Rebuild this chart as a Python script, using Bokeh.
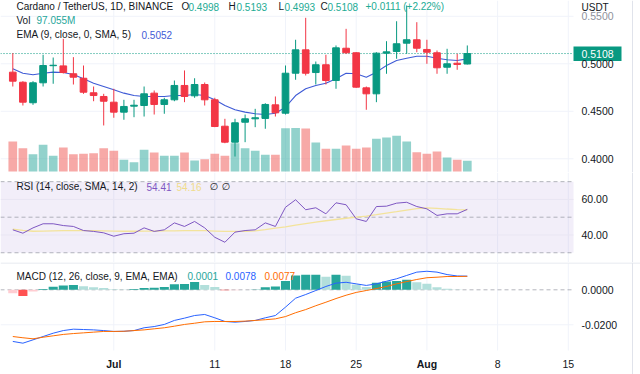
from bokeh.plotting import figure
from bokeh.models import Range1d, Label, ColumnDataSource
from bokeh.layouts import column
from bokeh.embed import file_html
from bokeh.resources import INLINE

# ---------------- data (ADA/USDT daily, Jun 21 - Aug 5) ----------------
date_labels = ["Jul", "11", "18", "25", "Aug", "8", "15"]
date_ticks = [10, 20, 27, 34, 41, 48, 55]
date_bold = [True, False, False, False, True, False, False]
price_ticks = [0.40, 0.45, 0.50, 0.55]
rsi_ticks = [40, 60]
macd_ticks = [0.0, -0.02]

opens = [0.4912, 0.4806, 0.4590, 0.4800, 0.4980, 0.4978, 0.4895, 0.4848, 0.4695, 0.4656,
         0.4596, 0.4491, 0.4554, 0.4561, 0.4691, 0.4572, 0.4621, 0.4772, 0.4663, 0.4782,
         0.4621, 0.4343, 0.4175, 0.4385, 0.4421, 0.4425, 0.4568, 0.4480, 0.4901, 0.5147,
         0.4908, 0.4990, 0.4824, 0.5164, 0.5116, 0.4747, 0.4684, 0.5112, 0.5130, 0.5217,
         0.5253, 0.5151, 0.5116, 0.4964, 0.5006, 0.4998]
highs = [0.5112, 0.4817, 0.4817, 0.5095, 0.5066, 0.5263, 0.5070, 0.4982, 0.4761, 0.4684,
         0.4737, 0.4621, 0.4621, 0.4761, 0.4719, 0.4642, 0.4824, 0.4930, 0.4848, 0.4803,
         0.4642, 0.4421, 0.4421, 0.4466, 0.4526, 0.4585, 0.4656, 0.4982, 0.5253, 0.5484,
         0.5024, 0.5095, 0.5193, 0.5368, 0.5122, 0.4761, 0.5122, 0.5238, 0.5448, 0.5614,
         0.5438, 0.5253, 0.5140, 0.5158, 0.5105, 0.5193]
lows = [0.4761, 0.4561, 0.4568, 0.4761, 0.4790, 0.4898, 0.4782, 0.4684, 0.4606, 0.4351,
        0.4432, 0.4411, 0.4438, 0.4445, 0.4466, 0.4474, 0.4606, 0.4596, 0.4642, 0.4561,
        0.4333, 0.4164, 0.4024, 0.4175, 0.4333, 0.4316, 0.4445, 0.4466, 0.4832, 0.4877,
        0.4782, 0.4782, 0.4737, 0.5105, 0.4747, 0.4516, 0.4596, 0.4895, 0.5053, 0.5105,
        0.5122, 0.5000, 0.4895, 0.4895, 0.4937, 0.4993]
closes = [0.4817, 0.4596, 0.4800, 0.4982, 0.4985, 0.4908, 0.4859, 0.4701, 0.4666, 0.4606,
          0.4491, 0.4551, 0.4564, 0.4684, 0.4572, 0.4621, 0.4772, 0.4656, 0.4782, 0.4621,
          0.4340, 0.4175, 0.4379, 0.4421, 0.4432, 0.4572, 0.4484, 0.4901, 0.5147, 0.4901,
          0.4990, 0.4824, 0.5168, 0.5116, 0.4754, 0.4684, 0.5112, 0.5126, 0.5211, 0.5253,
          0.5164, 0.5122, 0.4958, 0.5000, 0.4993, 0.5108]
volume_m = [272, 211, 157, 242, 142, 218, 157, 161, 166, 211,
            188, 106, 84, 197, 172, 142, 142, 172, 100, 112,
            161, 142, 257, 211, 188, 151, 151, 392, 394, 391,
            263, 206, 206, 236, 206, 218, 297, 308, 324, 272,
            175, 161, 181, 127, 106, 97.055]
ema9 = [0.4947, 0.4901, 0.4884, 0.4901, 0.4912, 0.4908, 0.4887, 0.4842, 0.4796, 0.4761,
        0.4726, 0.4691, 0.4666, 0.4656, 0.4656, 0.4656, 0.4666, 0.4666, 0.4677, 0.4666,
        0.4621, 0.4561, 0.4516, 0.4491, 0.4474, 0.4466, 0.4480, 0.4543, 0.4666, 0.4737,
        0.4772, 0.4796, 0.4842, 0.4901, 0.4895, 0.4859, 0.4912, 0.4982, 0.5035, 0.5059,
        0.5080, 0.5080, 0.5059, 0.5042, 0.5035, 0.5052]
rsi = [42.9, 41.0, 44.0, 46.3, 46.3, 45.3, 44.8, 42.5, 42.0, 41.2,
       39.3, 40.7, 41.0, 44.0, 42.0, 42.9, 46.8, 44.8, 47.6, 44.0,
       38.7, 35.9, 41.6, 42.5, 42.9, 46.8, 44.8, 55.6, 59.8, 54.2,
       55.3, 51.9, 58.1, 57.0, 49.1, 47.6, 56.0, 56.2, 57.9, 58.4,
       56.0, 54.7, 51.0, 51.9, 51.9, 54.41]
rsi_ma = [43.3, 42.6, 42.1, 42.2, 42.3, 42.4, 42.5, 42.5, 42.4, 42.3,
          42.2, 42.1, 42.1, 42.2, 42.2, 42.3, 42.3, 42.4, 42.5, 42.4,
          42.2, 42.0, 42.0, 42.1, 42.3, 43.0, 43.8, 44.6, 45.6, 46.4,
          47.2, 48.0, 48.7, 49.4, 50.0, 50.6, 51.4, 52.3, 53.1, 54.0,
          54.8, 55.2, 55.0, 54.6, 54.3, 54.16]
macd = [-0.0295, -0.0305, -0.0286, -0.0267, -0.0248, -0.0233, -0.0225, -0.0227, -0.0229, -0.0233,
        -0.0238, -0.0237, -0.0233, -0.0217, -0.0210, -0.0198, -0.0175, -0.0162, -0.0147, -0.0141,
        -0.0160, -0.0181, -0.0185, -0.0181, -0.0175, -0.0160, -0.0147, -0.0099, -0.0048, -0.0027,
        -0.0004, 0.0019, 0.0038, 0.0043, 0.0034, 0.0025, 0.0034, 0.0049, 0.0063, 0.0082,
        0.0101, 0.0106, 0.0101, 0.0087, 0.0079, 0.0078]
signal = [-0.0267, -0.0274, -0.0280, -0.0271, -0.0263, -0.0255, -0.0250, -0.0246, -0.0242, -0.0238,
          -0.0238, -0.0237, -0.0233, -0.0229, -0.0223, -0.0217, -0.0208, -0.0198, -0.0191, -0.0183,
          -0.0181, -0.0181, -0.0181, -0.0179, -0.0175, -0.0171, -0.0166, -0.0153, -0.0131, -0.0113,
          -0.0091, -0.0071, -0.0050, -0.0031, -0.0015, -0.0004, 0.0007, 0.0019, 0.0034, 0.0047,
          0.0059, 0.0069, 0.0072, 0.0076, 0.0076, 0.0077]
hist = [-0.0020, -0.0036, -0.0010, 0.0005, 0.0018, 0.0025, 0.0028, 0.0020, 0.0015, 0.0010,
        0.0003, 0.0002, 0.0004, 0.0011, 0.0012, 0.0016, 0.0032, 0.0033, 0.0044, 0.0028,
        0.0016, -0.0003, -0.0002, 0.0001, 0.0002, 0.0014, 0.0019, 0.0050, 0.0082, 0.0086,
        0.0086, 0.0074, 0.0086, 0.0080, 0.0030, 0.0016, 0.0040, 0.0047, 0.0051, 0.0057,
        0.0043, 0.0034, 0.0015, 0.0006, 0.0002, 0.0001]

# ---------------- styling constants ----------------
FONT = "Liberation Sans"
TXT = "#131722"
GREEN = "#089981"
RED = "#f23645"
GRID = "#f0f3fa"
SEP = "#e0e3eb"
W = 640
SCALE_LEFT = 573   # left edge of the price scale (px)
LABEL_X = 581      # left edge of scale labels (px)


# pixel helpers (canvas pixel -> data space); used for ranges and annotation placement
def px2x(px):
    return (px - 12.3) / 10.1


def py2price(py):
    return 0.5 + (63.3 - py) / 950.0


def py2vol(py):
    return (171.0 - py) * 9.07


def py2rsi(py):
    return 50 + (216.7 - py) / 1.7775


def py2macd(py):
    return (289.3 - py) / 1750.0


n = len(closes)
idx = list(range(n))
xr = Range1d(px2x(0), px2x(W))


def make_fig(height, yr):
    p = figure(width=W, height=height, x_range=xr, y_range=yr, output_backend="svg",
               toolbar_location=None, x_axis_location=None, y_axis_location=None,
               min_border_left=0, min_border_right=0, min_border_top=0, min_border_bottom=0)
    p.outline_line_color = None
    p.background_fill_color = "white"
    p.border_fill_color = "white"
    p.grid.visible = False
    return p


def lab(p, px, y, text, color=TXT, size="10px", font=FONT, style="normal", align="left"):
    p.add_layout(Label(x=px2x(px), y=y, text=text, text_color=color, text_font=font,
                       text_font_size=size, text_font_style=style, text_align=align,
                       text_baseline="middle"))


def vgrid(p, y0, y1):
    p.segment(x0=date_ticks, x1=date_ticks, y0=[y0] * len(date_ticks),
              y1=[y1] * len(date_ticks), line_color=GRID, line_width=1)


def hlines(p, ys, color, dash="solid", alpha=1.0, x1px=SCALE_LEFT):
    p.segment(x0=[px2x(0)] * len(ys), x1=[px2x(x1px)] * len(ys), y0=ys, y1=ys,
              line_color=color, line_alpha=alpha, line_dash=dash, line_width=1)


def scale_labels(p, ys, fmt, color=TXT, skip=()):
    for yv in ys:
        if yv in skip:
            continue
        lab(p, LABEL_X, yv, fmt % yv, color, size="10.5px")


def right_border(p, y0, y1):
    p.segment(x0=[px2x(632)], x1=[px2x(632)], y0=[y0], y1=[y1], line_color=SEP, line_width=1)


# ---------------- price pane ----------------
p1 = make_fig(172, Range1d(py2price(172), py2price(0)))
p1.extra_y_ranges = {"vol": Range1d(py2vol(172), py2vol(0))}
vgrid(p1, py2price(0), py2price(172))
hlines(p1, price_ticks, GRID)
right_border(p1, py2price(0), py2price(172))

up = [c >= o for o, c in zip(opens, closes)]
src = ColumnDataSource(dict(
    x=idx, high=highs, low=lows, vol=volume_m,
    top=[max(o, c) for o, c in zip(opens, closes)],
    bot=[min(o, c) for o, c in zip(opens, closes)],
    color=[GREEN if u else RED for u in up],
    vcolor=["#26a69a" if u else "#ef5350" for u in up],
))
p1.vbar(x="x", top="vol", bottom=0, width=0.86, fill_color="vcolor", fill_alpha=0.5,
        line_color=None, y_range_name="vol", source=src)
hlines(p1, [closes[-1]], GREEN, dash="1 2")
p1.line(idx, ema9, line_color="#3f5bd6", line_width=1.1)
p1.segment(x0="x", y0="low", x1="x", y1="high", line_color="color", line_width=1, source=src)
p1.vbar(x="x", top="top", bottom="bot", width=0.66, fill_color="color",
        line_color="color", line_width=1, source=src)

# scale: tick labels, unit, last price box
scale_labels(p1, price_ticks, "%.4f", skip=(0.55,))
lab(p1, LABEL_X, 0.55, "0.5500", "#8f929b", size="10.5px")
lab(p1, LABEL_X, py2price(6.5), "USDT", size="10px")
p1.quad(left=[px2x(SCALE_LEFT)], right=[px2x(621)], top=[py2price(46)],
        bottom=[py2price(60.5)], fill_color=GREEN, line_color=None)
lab(p1, LABEL_X, closes[-1], f"{closes[-1]:.4f}", "white", size="10.5px")

# legends
lab(p1, 16, py2price(6), "Cardano / TetherUS, 1D, BINANCE")
lab(p1, 181, py2price(6), "O")
lab(p1, 188, py2price(6), f"{opens[-1]:.4f}", "#22ab94")
lab(p1, 228, py2price(6), "H")
lab(p1, 236, py2price(6), f"{highs[-1]:.4f}", "#22ab94")
lab(p1, 278, py2price(6), "L")
lab(p1, 284, py2price(6), f"{lows[-1]:.4f}", "#22ab94")
lab(p1, 320, py2price(6), "C")
lab(p1, 327, py2price(6), f"{closes[-1]:.4f}", "#22ab94")
lab(p1, 365, py2price(6), "+0.0111 (+2.22%)", "#22ab94")
lab(p1, 16, py2price(20), "Vol")
lab(p1, 36, py2price(20), "97.055M", "#26a69a")
lab(p1, 16, py2price(34), "EMA (9, close, 0, SMA, 5)")
lab(p1, 141, py2price(34), f"{ema9[-1]:.4f}", "#3f5bd6")

# ---------------- RSI pane ----------------
p2 = make_fig(90, Range1d(py2rsi(262), py2rsi(172)))
vgrid(p2, py2rsi(172), py2rsi(262))
right_border(p2, py2rsi(172), py2rsi(262))
p2.quad(left=[px2x(0)], right=[px2x(SCALE_LEFT)], bottom=[30], top=[70],
        fill_color="#7e57c2", fill_alpha=0.1, line_color=None)
hlines(p2, rsi_ticks, "#e9e6f3")
hlines(p2, [30, 50, 70], "#787b86", dash="4 3", alpha=0.55)
p2.line(idx, rsi_ma, line_color="#f3e39b", line_width=1.3)
p2.line(idx, rsi, line_color="#7e57c2", line_width=1)
scale_labels(p2, rsi_ticks, "%.2f")
lab(p2, 16, py2rsi(186), "RSI (14, close, SMA, 14, 2)")
lab(p2, 146, py2rsi(186), f"{rsi[-1]:.2f}", "#7e57c2")
lab(p2, 176, py2rsi(186), f"{rsi_ma[-1]:.2f}", "#f0dc8c")
lab(p2, 209, py2rsi(186), "\u2205", font="DejaVu Sans")
lab(p2, 221, py2rsi(186), "\u2205", font="DejaVu Sans")

# ---------------- MACD pane + time scale ----------------
p3 = make_fig(112, Range1d(py2macd(374), py2macd(262)))
vgrid(p3, py2macd(263), py2macd(350))
right_border(p3, py2macd(262), py2macd(374))
p3.segment(x0=[px2x(0)], x1=[px2x(W)], y0=[py2macd(262.5)], y1=[py2macd(262.5)],
           line_color=SEP, line_width=1)
hlines(p3, [-0.02], GRID)
hlines(p3, [0.0], "#787b86", dash="4 3", alpha=0.55)

hcol = []
for i, h in enumerate(hist):
    prev = hist[i - 1] if i > 0 else h - 0.0005
    if h >= 0:
        hcol.append("#26a69a" if h >= prev else "#b2dfdb")
    else:
        hcol.append("#ffcdd2" if h > prev else "#ff5252")
p3.vbar(x=idx, top=hist, bottom=0, width=0.9, fill_color=hcol, line_color=None)
p3.line(idx, macd, line_color="#2962ff", line_width=1)
p3.line(idx, signal, line_color="#ff6d00", line_width=1)
scale_labels(p3, macd_ticks, "%.4f")
lab(p3, 16, py2macd(275.7), "MACD (12, 26, close, 9, EMA, EMA)")
lab(p3, 187, py2macd(275.7), f"{hist[-1]:.4f}", "#26a69a")
lab(p3, 225, py2macd(275.7), f"{macd[-1]:.4f}", "#2962ff")
lab(p3, 264, py2macd(275.7), f"{signal[-1]:.4f}", "#ff6d00")

for t, s, b in zip(date_ticks, date_labels, date_bold):
    p3.add_layout(Label(x=t, y=py2macd(363.5), text=s, text_color=TXT, text_font=FONT,
                        text_font_size="10.5px", text_font_style="bold" if b else "normal",
                        text_align="center", text_baseline="middle"))

layout = column(p1, p2, p3, spacing=0)
open("out.html", "w").write(file_html(layout, INLINE))
